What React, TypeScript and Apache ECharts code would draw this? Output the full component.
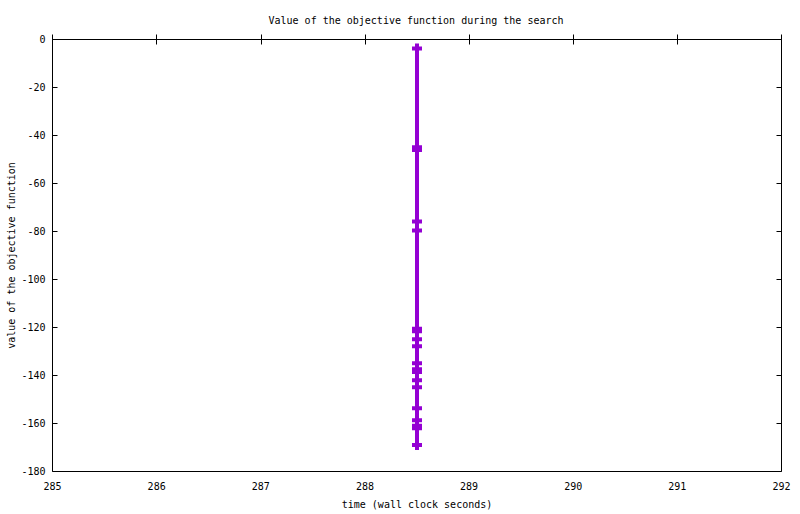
import React, { useEffect, useRef } from "react";
import * as echarts from "echarts";

const title = "Value of the objective function during the search";
const xName = "time (wall clock seconds)";
const yName = "value of the objective function";
const timeValues = [
  288.5, 288.5, 288.5, 288.5, 288.5, 288.5, 288.5, 288.5, 288.5, 288.5,
  288.5, 288.5, 288.5, 288.5, 288.5, 288.5, 288.5, 288.5, 288.5, 288.5,
];
const objectiveValues = [
  -3.8, -44.9, -46.0, -75.8, -79.6, -120.5, -121.6, -124.9, -127.8, -134.9,
  -137.4, -138.5, -142.0, -144.9, -153.6, -158.6, -160.9, -162.0, -169.0,
  -169.0,
];
const xMin = 285;
const xMax = 292;
const yMin = -180;
const yMax = 0;

const FONT = "DejaVu Sans Mono";
const COLOR = "#9400D3";
const PLUS = "path://M3,0H7V3H10V7H7V10H3V7H0V3H3Z";

export default function App() {
  const ref = useRef<HTMLDivElement>(null);
  useEffect(() => {
    if (!ref.current) return;
    const chart = echarts.init(ref.current, null, { renderer: "svg" });
    const data = timeValues.map((t, i) => [t, objectiveValues[i]]);
    const tickStyle = { show: true, inside: true, length: 5, lineStyle: { color: "#000", width: 1 } };
    const labelStyle = { color: "#000", fontFamily: FONT, fontSize: 10 };
    chart.setOption({
      animation: false,
      backgroundColor: "#fff",
      title: {
        text: title,
        left: 411,
        top: 10,
        textAlign: "center",
        textStyle: { fontFamily: FONT, fontSize: 10, fontWeight: "normal", color: "#000" },
      },
      grid: {
        left: 52.5,
        top: 39.5,
        width: 729,
        height: 432,
        show: true,
        borderColor: "#000",
        borderWidth: 1,
        containLabel: false,
        outerBoundsMode: "none",
      },
      xAxis: [
        {
          type: "value",
          min: xMin,
          max: xMax,
          interval: 1,
          position: "bottom",
          axisLine: { show: false },
          axisTick: tickStyle,
          splitLine: { show: false },
          axisLabel: { ...labelStyle, margin: 10 },
          name: xName,
          nameLocation: "middle",
          nameGap: 28,
          nameMoveOverlap: false,
          nameTextStyle: labelStyle,
        },
        {
          type: "value",
          min: xMin,
          max: xMax,
          interval: 1,
          position: "top",
          axisLine: { show: false },
          axisTick: tickStyle,
          splitLine: { show: false },
          axisLabel: { show: false },
        },
      ],
      yAxis: [
        {
          type: "value",
          min: yMin,
          max: yMax,
          interval: 20,
          position: "left",
          axisLine: { show: false },
          axisTick: tickStyle,
          splitLine: { show: false },
          axisLabel: { ...labelStyle, margin: 7 },
          name: yName,
          nameLocation: "middle",
          nameGap: 36,
          nameRotate: 90,
          nameMoveOverlap: false,
          nameTextStyle: labelStyle,
        },
        {
          type: "value",
          min: yMin,
          max: yMax,
          interval: 20,
          position: "right",
          axisLine: { show: false },
          axisTick: tickStyle,
          splitLine: { show: false },
          axisLabel: { show: false },
        },
      ],
      series: [
        {
          type: "line",
          data,
          xAxisIndex: 0,
          yAxisIndex: 0,
          symbol: PLUS,
          symbolSize: 10,
          showAllSymbol: true,
          lineStyle: { color: COLOR, width: 4 },
          itemStyle: { color: COLOR },
        },
      ],
    });
    return () => chart.dispose();
  }, []);
  return (
    <div
      ref={ref}
      style={{ position: "fixed", left: 0, top: 0, width: 800, height: 514, background: "#fff" }}
    />
  );
}
